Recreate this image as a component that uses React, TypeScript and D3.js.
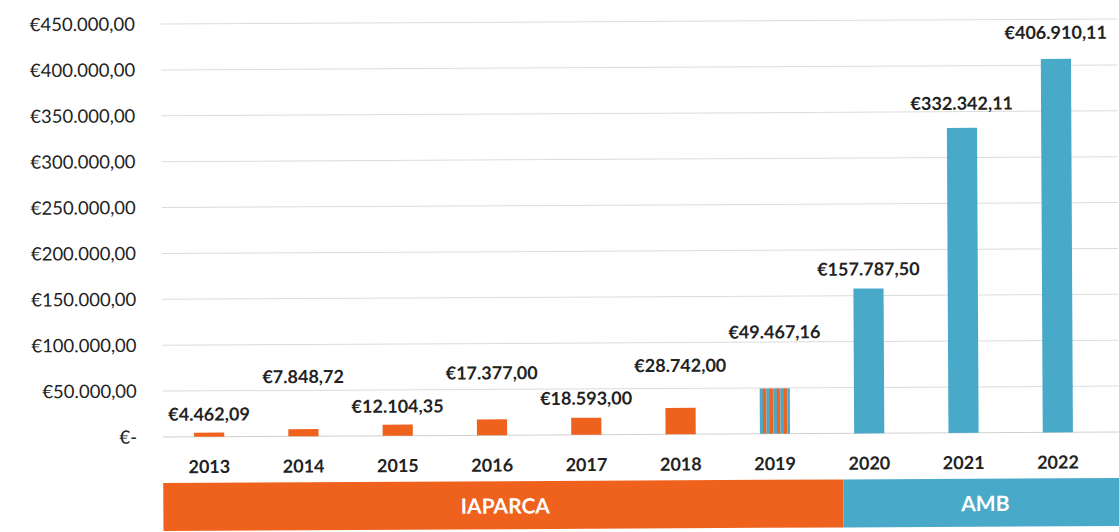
import React from "react";
import * as d3 from "d3";

const years = ["2013", "2014", "2015", "2016", "2017", "2018", "2019", "2020", "2021", "2022"];
const values = [4462.09, 7848.72, 12104.35, 17377.0, 18593.0, 28742.0, 49467.16, 157787.5, 332342.11, 406910.11];
const owner = ["IAPARCA", "IAPARCA", "IAPARCA", "IAPARCA", "IAPARCA", "IAPARCA", "MIXED", "AMB", "AMB", "AMB"];
const yTicks = [0, 50000, 100000, 150000, 200000, 250000, 300000, 350000, 400000, 450000];
const groups = ["IAPARCA", "AMB"];

// layout-only: how far each data label sits above its bar (manually placed in source)
const labelLift = [12, 46, 12, 40, 13, 36, 50, 13, 18, 20];

const W = 1119;
const H = 532;
const ORANGE = "#EE621E";
const BLUE = "#48A9C8";
const FONT = "Lato, 'Open Sans', sans-serif";

const fmt = (v: number) => {
  const [i, d] = v.toFixed(2).split(".");
  return "€" + i.replace(/\B(?=(\d{3})+(?!\d))/g, ".") + "," + d;
};
const fmtAxis = (v: number) => (v === 0 ? "€-" : fmt(v));

export default function App() {
  const x = d3.scaleBand<string>().domain(years).range([162, 1105]).paddingInner(0.68).paddingOuter(0.34);
  const y = d3.scaleLinear().domain([0, 450000]).range([437, 24]);
  const bw = x.bandwidth();

  const bannerX = d3.scaleOrdinal<string, [number, number]>().domain(groups).range([
    [163, 843],
    [843, 1125],
  ]);

  return (
    <svg width={W} height={H} style={{ position: "absolute", left: 0, top: 0, background: "#fff" }}>
      <defs>
        <pattern id="stripes" width="7" height="10" patternUnits="userSpaceOnUse">
          <rect x="0" y="0" width="3.5" height="10" fill={ORANGE} />
          <rect x="3.5" y="0" width="3.5" height="10" fill={BLUE} />
        </pattern>
      </defs>
      <g transform="rotate(-0.3, 163, 437)">
        {yTicks.map((t) => (
          <g key={t}>
            {t > 0 && <line x1={163} x2={1119} y1={y(t)} y2={y(t)} stroke="#dcdcdc" strokeWidth={1} />}
            <text x={137} y={y(t)} dy="0.35em" textAnchor="end" fontFamily={FONT} fontSize={18.5} fill="#222">
              {fmtAxis(t)}
            </text>
          </g>
        ))}
        <line x1={163} x2={1119} y1={y(0)} y2={y(0)} stroke="#d0d0d0" strokeWidth={1} />
        {years.map((yr, i) => {
          const v = values[i];
          const fill = owner[i] === "IAPARCA" ? ORANGE : owner[i] === "AMB" ? BLUE : "url(#stripes)";
          const cx = (x(yr) as number) + bw / 2;
          return (
            <g key={yr}>
              <rect x={x(yr)} y={y(v)} width={bw} height={y(0) - y(v)} fill={fill} />
              <text x={cx} y={y(v) - labelLift[i]} textAnchor="middle" fontFamily={FONT} fontWeight={700} fontSize={18} fill="#222">
                {fmt(v)}
              </text>
              <text x={cx} y={467} dy="0.35em" textAnchor="middle" fontFamily={FONT} fontWeight={700} fontSize={18} fill="#222">
                {yr}
              </text>
            </g>
          );
        })}
        {groups.map((g) => {
          const [a, b] = bannerX(g);
          return (
            <g key={g}>
              <rect x={a} y={483} width={b - a} height={48} fill={g === "AMB" ? BLUE : ORANGE} />
              <text x={g === "AMB" ? 985 : 505} y={508} dy="0.35em" textAnchor="middle" fontFamily={FONT} fontWeight={700} fontSize={21} fill="#fff">
                {g}
              </text>
            </g>
          );
        })}
      </g>
    </svg>
  );
}
